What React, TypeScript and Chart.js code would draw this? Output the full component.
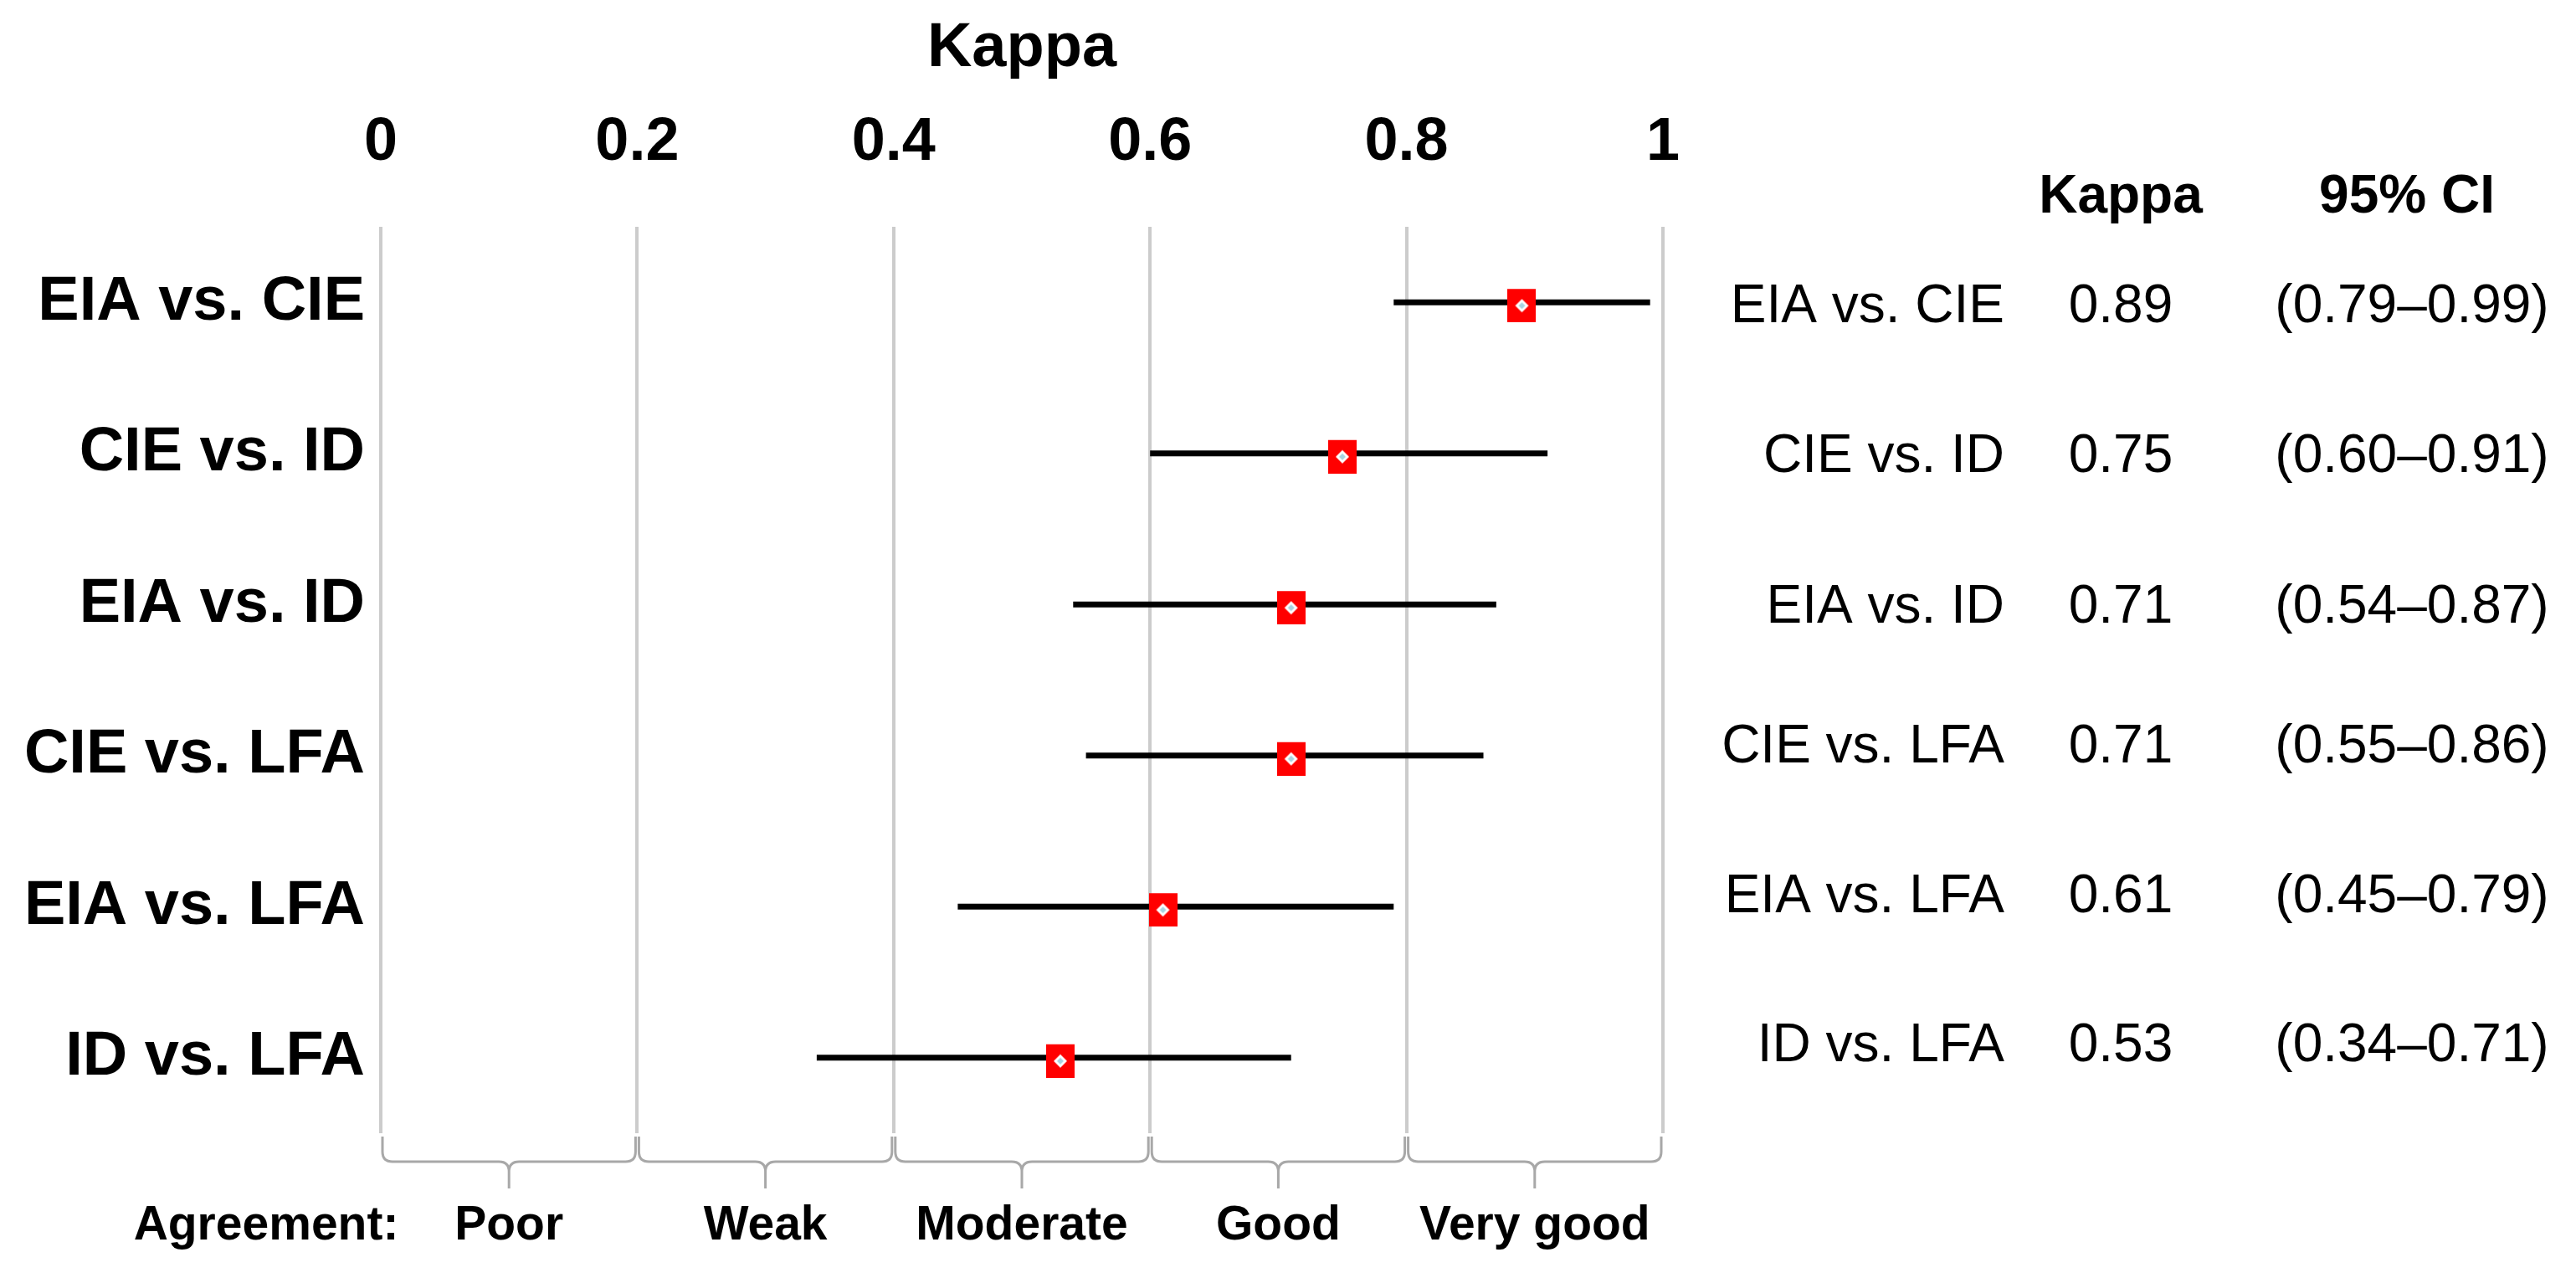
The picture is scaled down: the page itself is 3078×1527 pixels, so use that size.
import React, { useEffect, useRef } from "react";
import { Chart, registerables } from "chart.js";

Chart.register(...registerables);

// ---- data ----
const comparisons = ["EIA vs. CIE", "CIE vs. ID", "EIA vs. ID", "CIE vs. LFA", "EIA vs. LFA", "ID vs. LFA"];
const kappaValues = [0.89, 0.75, 0.71, 0.71, 0.61, 0.53];
const ciLower = [0.79, 0.6, 0.54, 0.55, 0.45, 0.34];
const ciUpper = [0.99, 0.91, 0.87, 0.86, 0.79, 0.71];
const xTickValues = [0, 0.2, 0.4, 0.6, 0.8, 1];
const agreementTitle = "Agreement:";
const agreementLabels = ["Poor", "Weak", "Moderate", "Good", "Very good"];
const agreementBounds = [0, 0.2, 0.4, 0.6, 0.8, 1];
const axisTitle = "Kappa";
const tableHeaders = ["Kappa", "95% CI"];

const W = 3078;
const H = 1527;
const FONT = '"Liberation Sans", Arial, Helvetica, sans-serif';

function makeMarker(): HTMLCanvasElement {
  const c = document.createElement("canvas");
  c.width = 34;
  c.height = 48;
  const g = c.getContext("2d")!;
  g.fillStyle = "#ff0000";
  g.fillRect(0, 8, 34, 40);
  const cx = 17;
  const cy = 28;
  g.fillStyle = "#ffffff";
  g.beginPath();
  g.moveTo(cx, cy - 8);
  g.lineTo(cx + 8, cy);
  g.lineTo(cx, cy + 8);
  g.lineTo(cx - 8, cy);
  g.closePath();
  g.fill();
  g.fillStyle = "#a8d4e2";
  g.beginPath();
  g.moveTo(cx, cy - 4);
  g.lineTo(cx + 4, cy);
  g.lineTo(cx, cy + 4);
  g.lineTo(cx - 4, cy);
  g.closePath();
  g.fill();
  return c;
}

const annotationsPlugin = {
  id: "forestAnnotations",
  afterDraw(chart: any) {
    const { ctx, chartArea, scales } = chart;
    const x = scales.x;
    ctx.save();

    // agreement braces
    ctx.strokeStyle = "#a8a8a8";
    ctx.lineWidth = 3;
    const y0 = chartArea.bottom + 4;
    const y1 = chartArea.bottom + 34;
    const y2 = chartArea.bottom + 66;
    const r = 12;
    for (let i = 0; i < agreementLabels.length; i++) {
      const xa = x.getPixelForValue(agreementBounds[i]) + 2;
      const xb = x.getPixelForValue(agreementBounds[i + 1]) - 2;
      const xm = (xa + xb) / 2;
      ctx.beginPath();
      ctx.moveTo(xa, y0);
      ctx.lineTo(xa, y1 - r);
      ctx.quadraticCurveTo(xa, y1, xa + r, y1);
      ctx.lineTo(xm - r, y1);
      ctx.quadraticCurveTo(xm, y1, xm, y1 + r);
      ctx.lineTo(xm, y2);
      ctx.moveTo(xm, y1 + r);
      ctx.quadraticCurveTo(xm, y1, xm + r, y1);
      ctx.lineTo(xb - r, y1);
      ctx.quadraticCurveTo(xb, y1, xb, y1 - r);
      ctx.lineTo(xb, y0);
      ctx.stroke();
    }

    // agreement labels
    ctx.fillStyle = "#000";
    ctx.textBaseline = "middle";
    ctx.textAlign = "center";
    ctx.font = `bold 57px ${FONT}`;
    const ly = 1465;
    ctx.fillText(agreementTitle, 318, ly);
    for (let i = 0; i < agreementLabels.length; i++) {
      const mid = (agreementBounds[i] + agreementBounds[i + 1]) / 2;
      ctx.fillText(agreementLabels[i], x.getPixelForValue(mid), ly);
    }

    // right table
    const colLabelRight = 2395;
    const colKappa = 2534;
    const colCI = 2882;
    const headerY = 236;
    const rowY = [367, 546, 726, 893, 1072, 1250];
    ctx.font = `bold 64px ${FONT}`;
    ctx.fillText(tableHeaders[0], colKappa, headerY);
    ctx.fillText(tableHeaders[1], 2876, headerY);
    ctx.font = `64px ${FONT}`;
    for (let i = 0; i < comparisons.length; i++) {
      ctx.textAlign = "right";
      ctx.fillText(comparisons[i], colLabelRight, rowY[i]);
      ctx.textAlign = "center";
      ctx.fillText(kappaValues[i].toFixed(2), colKappa, rowY[i]);
      ctx.fillText(`(${ciLower[i].toFixed(2)}\u2013${ciUpper[i].toFixed(2)})`, colCI, rowY[i]);
    }
    ctx.restore();
  },
};

export default function App() {
  const ref = useRef<HTMLCanvasElement>(null);

  useEffect(() => {
    document.body.style.margin = "0";
    const canvas = ref.current!;
    const marker = makeMarker();

    const lineSets = comparisons.map((name, i) => ({
      label: name,
      data: [
        { x: ciLower[i], y: i + 1 },
        { x: ciUpper[i], y: i + 1 },
      ],
      showLine: true,
      borderColor: "#000000",
      backgroundColor: "#000000",
      borderWidth: 7,
      borderCapStyle: "butt",
      pointRadius: 0,
      pointHoverRadius: 0,
      order: 2,
    }));

    const pointSet = {
      label: "Kappa",
      data: kappaValues.map((k, i) => ({ x: k, y: i + 1 })),
      showLine: false,
      pointStyle: marker,
      pointRadius: 20,
      pointHoverRadius: 20,
      order: 0,
    };

    const chart = new Chart(canvas, {
      type: "scatter",
      data: { datasets: [pointSet as any, ...(lineSets as any[])] },
      options: {
        animation: false,
        responsive: false,
        devicePixelRatio: 1,
        events: [],
        layout: { padding: { left: 0, top: 0, right: W - 1987, bottom: H - 1354 } },
        plugins: {
          legend: { display: false },
          tooltip: { enabled: false },
        },
        scales: {
          x: {
            type: "linear",
            position: "top",
            min: 0,
            max: 1,
            afterBuildTicks: (s: any) => {
              s.ticks = xTickValues.map((v) => ({ value: v }));
            },
            afterFit: (s: any) => {
              s.height = 271;
            },
            ticks: {
              autoSkip: false,
              maxRotation: 0,
              padding: 57,
              color: "#000",
              font: { family: FONT, size: 72, weight: "bold" },
              callback: (v: any) => String(v),
            },
            grid: { color: "#cccccc", lineWidth: 4, drawTicks: false },
            border: { display: false },
            title: {
              display: true,
              text: axisTitle,
              color: "#000",
              font: { family: FONT, size: 74, weight: "bold" },
              padding: { top: 14, bottom: 0 },
            },
          },
          y: {
            type: "linear",
            position: "left",
            min: 0.5,
            max: 6.5,
            reverse: true,
            afterBuildTicks: (s: any) => {
              s.ticks = comparisons.map((_, i) => ({ value: i + 1 }));
            },
            afterFit: (s: any) => {
              s.width = 455;
            },
            ticks: {
              autoSkip: false,
              padding: 19,
              color: "#000",
              font: { family: FONT, size: 74, weight: "bold" },
              callback: (v: any) => comparisons[Math.round(Number(v)) - 1] ?? "",
            },
            grid: { display: false, drawTicks: false },
            border: { display: false },
          },
        },
      } as any,
      plugins: [annotationsPlugin],
    });

    return () => chart.destroy();
  }, []);

  return (
    <div style={{ position: "absolute", left: 0, top: 0, width: W, height: H, background: "#fff" }}>
      <canvas ref={ref} width={W} height={H} style={{ width: W, height: H, display: "block" }} />
    </div>
  );
}
